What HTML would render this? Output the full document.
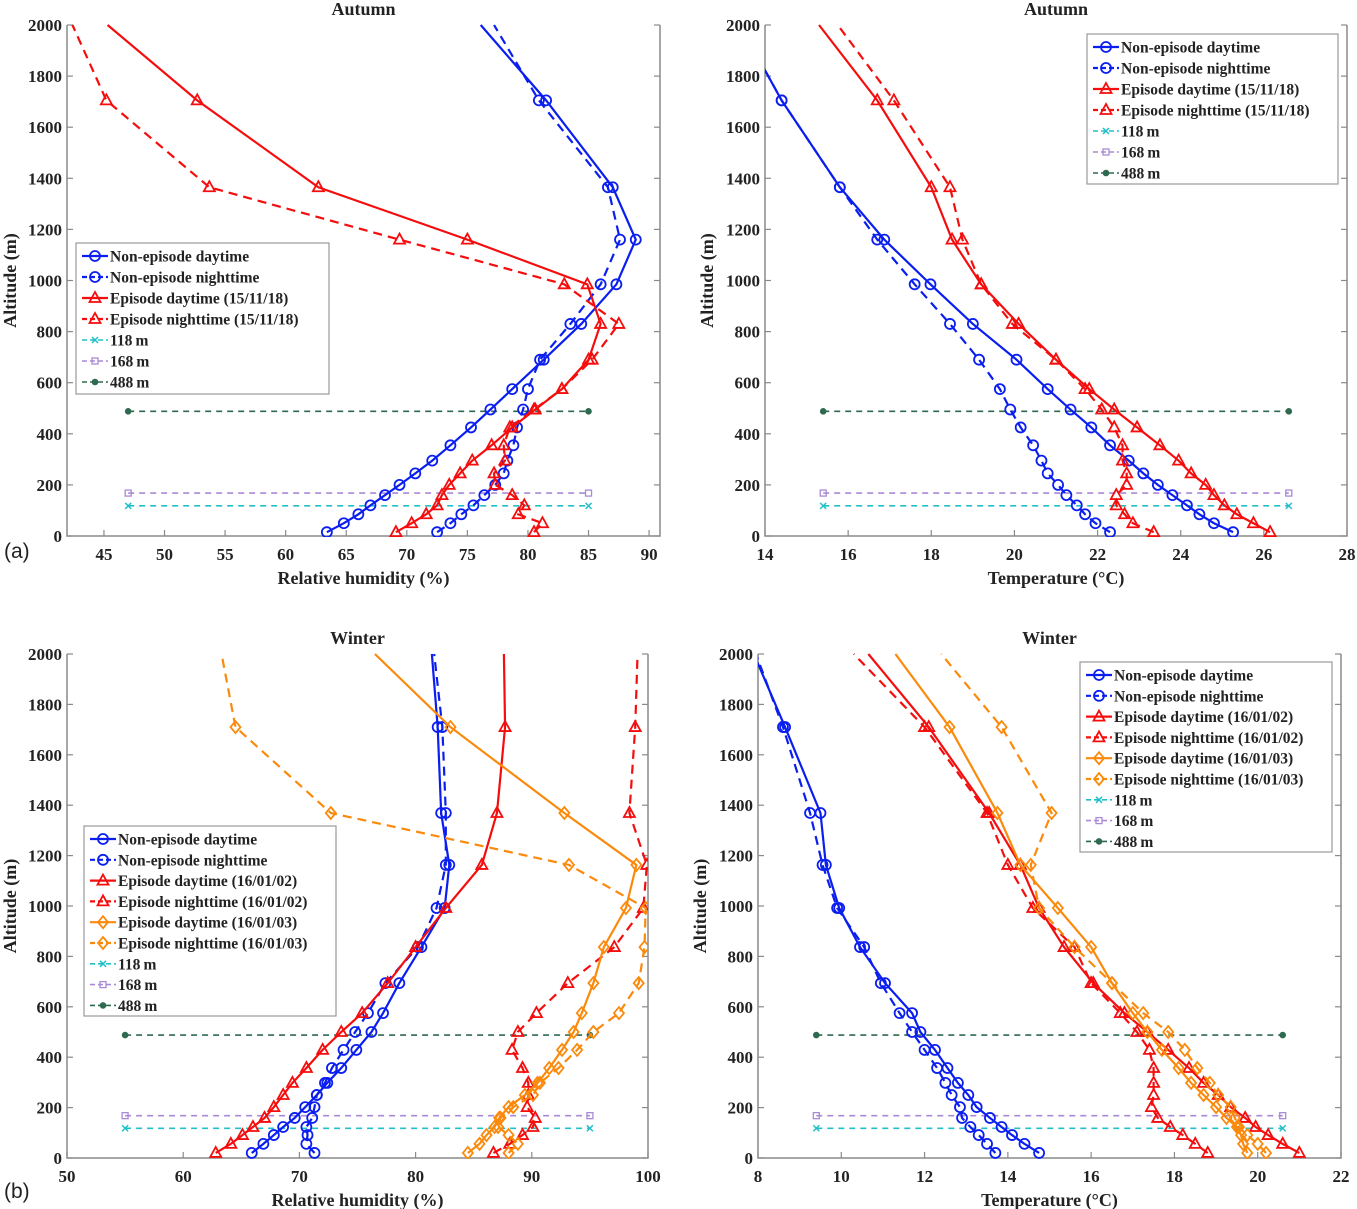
<!DOCTYPE html>
<html><head><meta charset="utf-8"><style>
body{margin:0;background:#fff}
svg{display:block}
text{font-family:"Liberation Serif",serif;font-weight:bold;fill:#222}
</style></head><body>
<svg id="fig" width="1357" height="1209" viewBox="0 0 1357 1209" xmlns="http://www.w3.org/2000/svg"></svg>
<script>
// ---- shared data ----
const altA = [15,50,85,120,160,200,245,295,355,425,495,575,690,830,985,1160,1365,1705,2000];
const altC = [20,56,91,123,159,202,250,298,357,429,500,575,694,837,992,1163,1369,1710,2000];
const tickY = [0,200,400,600,800,1000,1200,1400,1600,1800,2000];
const refAlts = [118,168,488];
// Panel A (autumn RH)
const a_ned = [63.4,64.8,66.0,67.0,68.2,69.4,70.7,72.1,73.6,75.3,76.9,78.7,81.3,84.4,87.3,88.9,87.0,81.5,76.1];
const a_nen = [72.5,73.6,74.5,75.5,76.4,77.3,78.0,78.3,78.8,79.1,79.6,80.0,81.0,83.5,86.0,87.6,86.6,80.9,77.2];
const a_ed = [69.1,70.4,71.6,72.5,72.9,73.5,74.4,75.4,77.0,78.7,80.6,82.8,85.0,86.0,84.9,75.0,62.7,52.7,45.3];
const a_en = [80.5,81.2,79.2,79.7,78.7,77.3,77.2,78.1,78.0,78.5,80.5,82.8,85.3,87.5,83.0,69.4,53.7,45.2,42.4];
// Panel B (autumn T)
const b_ned = [25.26,24.8,24.45,24.15,23.8,23.45,23.1,22.75,22.3,21.85,21.35,20.8,20.05,19.0,17.98,16.87,15.8,14.4,13.4];
const b_nen = [22.3,21.95,21.7,21.5,21.25,21.05,20.8,20.65,20.45,20.15,19.9,19.65,19.15,18.45,17.6,16.7,15.8,14.4,13.4];
const b_ed = [26.15,25.75,25.35,25.05,24.8,24.6,24.25,23.95,23.5,22.95,22.4,21.8,21.0,20.1,19.2,18.5,18.0,16.7,15.3];
const b_en = [23.35,22.85,22.65,22.45,22.45,22.7,22.7,22.6,22.6,22.4,22.1,21.7,21.0,19.95,19.2,18.75,18.45,17.1,15.75];
// Panel C (winter RH)
const c_ned = [65.9,66.9,67.8,68.6,69.6,70.5,71.5,72.4,73.6,74.9,76.2,77.2,78.6,80.5,82.5,82.9,82.2,81.9,81.4];
const c_nen = [71.3,70.6,70.7,70.6,71.1,71.3,71.5,72.2,72.8,73.8,74.8,75.9,77.4,80.2,81.8,82.6,82.6,82.3,81.6];
const c_ed2 = [62.8,64.1,65.1,66.0,67.0,67.8,68.6,69.4,70.6,72.0,73.6,75.4,77.6,80.0,82.6,85.7,87.0,87.7,87.6];
const c_en2 = [86.7,88.1,89.2,90.1,90.3,89.6,89.7,89.7,89.2,88.3,88.8,90.4,93.1,97.1,99.6,99.9,98.4,98.9,99.1];
const c_ed3 = [84.5,85.5,86.1,86.8,87.2,88.0,89.4,90.5,91.5,92.6,93.6,94.3,95.3,96.2,98.1,99.0,92.8,83.0,76.5];
const c_en3 = [88.0,88.8,88.0,87.1,87.3,88.4,90.1,90.7,92.3,93.9,95.3,97.5,99.2,99.7,99.8,93.2,72.7,64.5,63.3];
// Panel D (winter T)
const d_ned = [14.75,14.4,14.1,13.85,13.57,13.25,13.05,12.8,12.55,12.25,11.9,11.7,11.05,10.45,9.95,9.63,9.5,8.65,7.9];
const d_nen = [13.7,13.5,13.3,13.1,12.9,12.85,12.65,12.5,12.3,12.0,11.7,11.4,10.95,10.55,9.9,9.55,9.25,8.6,7.95];
const d_ed2 = [21.0,20.6,20.25,19.95,19.7,19.35,19.05,18.7,18.35,17.85,17.35,16.8,16.05,15.35,14.75,14.3,13.55,12.1,10.65];
const d_en2 = [18.8,18.5,18.2,17.9,17.6,17.45,17.5,17.5,17.5,17.4,17.1,16.7,16.0,15.6,14.6,14.0,13.5,12.0,10.3];
const d_ed3 = [19.75,19.65,19.6,19.5,19.25,19.0,18.7,18.4,18.1,17.7,17.35,17.0,16.5,16.0,15.2,14.3,13.75,12.6,11.3];
const d_en3 = [20.2,20.0,19.75,19.55,19.45,19.35,19.05,18.85,18.55,18.25,17.85,17.25,16.5,15.6,14.75,14.55,15.05,13.85,12.4];

const svg = document.getElementById('fig');
const NS = 'http://www.w3.org/2000/svg';
function mk(tag, attrs, parent){const e=document.createElementNS(NS,tag);for(const k in attrs)e.setAttribute(k,attrs[k]);(parent||svg).appendChild(e);return e;}
function txt(s, attrs, parent){const e=mk('text',attrs,parent);e.textContent=s;return e;}

function marker(g, type, x, y, color){
  let m;
  if(type==='o') m=mk('circle',{cx:x,cy:y,r:5,fill:'none',stroke:color,'stroke-width':1.8},g);
  else if(type==='^') m=mk('polygon',{points:`${x},${y-6} ${x-5.5},${y+4} ${x+5.5},${y+4}`,fill:'none',stroke:color,'stroke-width':1.8},g);
  else if(type==='d') m=mk('polygon',{points:`${x},${y-6} ${x+5},${y} ${x},${y+6} ${x-5},${y}`,fill:'none',stroke:color,'stroke-width':1.8},g);
  else if(type==='x'){m=mk('path',{d:`M${x-3},${y-3}L${x+3},${y+3}M${x-3},${y+3}L${x+3},${y-3}`,stroke:color,'stroke-width':1.5},g);}
  else if(type==='s') m=mk('rect',{x:x-3,y:y-3,width:6,height:6,fill:'none',stroke:color,'stroke-width':1.3},g);
  else if(type==='*') m=mk('circle',{cx:x,cy:y,r:3.3,fill:color},g);
  return m;
}

const BLUE='#0a1ef0', RED='#f50d0d', ORANGE='#fb8a0c', CYAN='#20c0c8', PURPLE='#a98ad6', GREEN='#2f6a50';

function panel(cfg){
  const g = mk('g',{});
  
  
  const {x0,x1,y0,y1,xmin,xmax} = cfg;
  const sx = v => x0 + (v-xmin)/(xmax-xmin)*(x1-x0);
  const sy = a => y1 - a/2000*(y1-y0);
  const cid = 'clip-'+cfg.name;
  const cp = mk('clipPath',{id:cid},g); mk('rect',{x:x0,y:y0-1,width:x1-x0,height:y1-y0+2},cp);
  const ax = mk('path',{d:`M${x0},${y0}L${x0},${y1}L${x1},${y1}L${x1},${y0}`,fill:'none',stroke:'#8a8a8a','stroke-width':1.5},g);
  
  
  tickY.forEach(t=>{
    const y=sy(t);
    mk('line',{x1:x0,y1:y,x2:x0+6,y2:y,stroke:'#8a8a8a','stroke-width':1.2},g);
    mk('line',{x1:x1,y1:y,x2:x1-6,y2:y,stroke:'#8a8a8a','stroke-width':1.2},g);
    const l=txt(String(t),{x:x0-5,y:y+6,'text-anchor':'end','font-size':17},g);
    
    
  });
  cfg.xticks.forEach(t=>{
    const x=sx(t);
    mk('line',{x1:x,y1:y1,x2:x,y2:y1-6,stroke:'#8a8a8a','stroke-width':1.2},g);
    const l=txt(String(t),{x:x,y:y1+24,'text-anchor':'middle','font-size':17},g);
    
    
  });
  const t=txt(cfg.title,{x:(x0+x1)/2,y:y0-10,'text-anchor':'middle','font-size':18},g);
  
  
  const xl=txt(cfg.xlabel,{x:(x0+x1)/2,y:y1+48,'text-anchor':'middle','font-size':18,'xml:space':'preserve'},g);
  
  
  const yl=txt('Altitude (m)',{x:0,y:0,'text-anchor':'middle','font-size':18,transform:`translate(${cfg.ylx},${(y0+y1)/2}) rotate(-90)`},g);
  
  
  const refStyle=[[CYAN,'x'],[PURPLE,'s'],[GREEN,'*']];
  refAlts.forEach((a,i)=>{
    const y=sy(a);
    const rl=mk('line',{x1:sx(cfg.ref[0]),y1:y,x2:sx(cfg.ref[1]),y2:y,stroke:refStyle[i][0],'stroke-width':1.6,'stroke-dasharray':'6 5'},g);
    
    
    marker(g,refStyle[i][1],sx(cfg.ref[0]),y,refStyle[i][0]);
    marker(g,refStyle[i][1],sx(cfg.ref[1]),y,refStyle[i][0]);
  });
  const sg = mk('g',{'clip-path':`url(#${cid})`},g);
  cfg.series.forEach(s=>{
    const pts = s.v.map((v,i)=>[sx(v),sy(cfg.alt[i])]);
    const pl = mk('polyline',{points:pts.map(p=>p.join(',')).join(' '),fill:'none',stroke:s.c,'stroke-width':2.2,'stroke-dasharray':s.dash?'9 6':'none'},sg);
    
    
    pts.slice(0,pts.length-1).forEach(p=>marker(sg,s.m,p[0],p[1],s.c));
  });
  const L=cfg.legend;
  const lg=mk('g',{},g);
  
  
  mk('rect',{x:L.x,y:L.y,width:L.w,height:L.h,fill:'#fff',stroke:'#999','stroke-width':1.2},lg);
  const entries = cfg.series.map(s=>({c:s.c,m:s.m,dash:s.dash,label:s.label})).concat(
    [{c:CYAN,m:'x',dash:true,label:'118\u2009m',ref:1},{c:PURPLE,m:'s',dash:true,label:'168\u2009m',ref:1},{c:GREEN,m:'*',dash:true,label:'488\u2009m',ref:1}]);
  entries.forEach((e,i)=>{
    const y=L.y+13+i*L.step;
    const lx=L.x+6;
    mk('line',{x1:lx,y1:y,x2:lx+26,y2:y,stroke:e.c,'stroke-width':e.ref?1.6:2.2,'stroke-dasharray':e.dash?'5 3':'none'},lg);
    marker(lg,e.m,lx+13,y,e.c);
    const et=txt(e.label,{x:lx+28,y:y+5.5,'font-size':15.5},lg);
    
    
  });
}

panel({name:'panel-autumn-rh',x0:67,x1:660,y0:25,y1:536,xmin:41.95,xmax:90.9,xticks:[45,50,55,60,65,70,75,80,85,90],
  title:'Autumn',xlabel:'Relative  humidity (%)',ylx:16,alt:altA,ref:[47,85],
  legend:{x:76,y:243,w:253,h:151,step:21},
  series:[{id:'ned',v:a_ned,c:BLUE,m:'o',dash:false,label:'Non-episode daytime'},
          {id:'nen',v:a_nen,c:BLUE,m:'o',dash:true,label:'Non-episode nighttime'},
          {id:'ed',v:a_ed,c:RED,m:'^',dash:false,label:'Episode daytime (15/11/18)'},
          {id:'en',v:a_en,c:RED,m:'^',dash:true,label:'Episode nighttime (15/11/18)'}]});
panel({name:'panel-autumn-temp',x0:765,x1:1347,y0:25,y1:536,xmin:14,xmax:28,xticks:[14,16,18,20,22,24,26,28],
  title:'Autumn',xlabel:'Temperature (°C)',ylx:713,alt:altA,ref:[15.4,26.6],
  legend:{x:1087,y:34,w:251,h:150,step:21},
  series:[{id:'ned',v:b_ned,c:BLUE,m:'o',dash:false,label:'Non-episode daytime'},
          {id:'nen',v:b_nen,c:BLUE,m:'o',dash:true,label:'Non-episode nighttime'},
          {id:'ed',v:b_ed,c:RED,m:'^',dash:false,label:'Episode daytime (15/11/18)'},
          {id:'en',v:b_en,c:RED,m:'^',dash:true,label:'Episode nighttime (15/11/18)'}]});
panel({name:'panel-winter-rh',x0:67,x1:648,y0:654,y1:1158,xmin:50,xmax:100,xticks:[50,60,70,80,90,100],
  title:'Winter',xlabel:'Relative  humidity (%)',ylx:16,alt:altC,ref:[55,95],
  legend:{x:84,y:826,w:252,h:190,step:20.8},
  series:[{id:'ned',v:c_ned,c:BLUE,m:'o',dash:false,label:'Non-episode daytime'},
          {id:'nen',v:c_nen,c:BLUE,m:'o',dash:true,label:'Non-episode nighttime'},
          {id:'ed2',v:c_ed2,c:RED,m:'^',dash:false,label:'Episode daytime (16/01/02)'},
          {id:'en2',v:c_en2,c:RED,m:'^',dash:true,label:'Episode nighttime (16/01/02)'},
          {id:'ed3',v:c_ed3,c:ORANGE,m:'d',dash:false,label:'Episode daytime (16/01/03)'},
          {id:'en3',v:c_en3,c:ORANGE,m:'d',dash:true,label:'Episode nighttime (16/01/03)'}]});
panel({name:'panel-winter-temp',x0:758,x1:1341,y0:654,y1:1158,xmin:8,xmax:22,xticks:[8,10,12,14,16,18,20,22],
  title:'Winter',xlabel:'Temperature (°C)',ylx:706,alt:altC,ref:[9.4,20.6],
  legend:{x:1080,y:662,w:252,h:190,step:20.8},
  series:[{id:'ned',v:d_ned,c:BLUE,m:'o',dash:false,label:'Non-episode daytime'},
          {id:'nen',v:d_nen,c:BLUE,m:'o',dash:true,label:'Non-episode nighttime'},
          {id:'ed2',v:d_ed2,c:RED,m:'^',dash:false,label:'Episode daytime (16/01/02)'},
          {id:'en2',v:d_en2,c:RED,m:'^',dash:true,label:'Episode nighttime (16/01/02)'},
          {id:'ed3',v:d_ed3,c:ORANGE,m:'d',dash:false,label:'Episode daytime (16/01/03)'},
          {id:'en3',v:d_en3,c:ORANGE,m:'d',dash:true,label:'Episode nighttime (16/01/03)'}]});

const pa=txt('(a)',{x:4,y:558,'font-size':21,style:'font-family:"Liberation Sans",sans-serif !important;font-weight:normal'});


const pb=txt('(b)',{x:4,y:1198,'font-size':21,style:'font-family:"Liberation Sans",sans-serif !important;font-weight:normal'});


</script>
</body></html>
